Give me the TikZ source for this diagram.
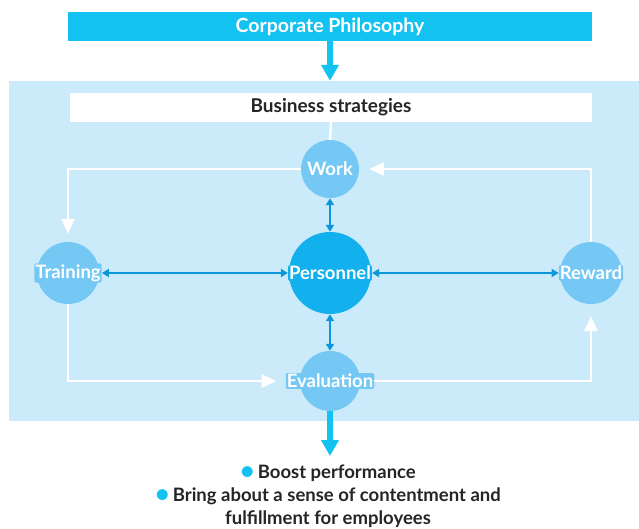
\documentclass[tikz,border=0pt]{standalone}
\usepackage{fontspec}
\setmainfont{Lato}
\usetikzlibrary{arrows.meta}

\definecolor{philo}{HTML}{14C2F2}
\definecolor{panel}{HTML}{CBEBFB}
\definecolor{ring}{HTML}{76C8F4}
\definecolor{core}{HTML}{12B1EE}
\definecolor{link}{HTML}{0C96DB}
\definecolor{ink}{HTML}{262426}

\newcommand{\dotmark}{\textcolor{philo}{\fontsize{25}{22}\selectfont\raisebox{-1.5pt}{\textbullet}}}

\tikzset{
	role/.style={circle, fill=ring, inner sep=0pt},
	rolelabel/.style={fill=ring, text=white, font=\bfseries\fontsize{18.5}{20}\selectfont, inner sep=1pt, rounded corners=2pt},
	twoway/.style={link, line width=2pt, {Triangle[width=8pt,length=7pt]}-{Triangle[width=8pt,length=7pt]}},
	feedback/.style={white, line width=2.5pt, -{Triangle[width=13pt,length=15pt]}},
	flow/.style={philo, line width=6pt, -{Triangle[width=17pt,length=16pt]}}
}

\begin{document}
\begin{tikzpicture}[x=1pt, y=-1pt, line cap=butt, line join=miter]
	
	\useasboundingbox (0,0) rectangle (639,529);
	
	% Vùng nền
	\node[fill=panel, minimum width=630pt, minimum height=340pt, inner sep=0pt] (panel) at (324,251) {};
	
	% Thanh trên và hộp chiến lược
	\node[fill=philo, text=white, minimum width=524pt, minimum height=29pt, inner sep=0pt,
		font=\bfseries\fontsize{19.5}{22}\selectfont] (philosophy) at (330,26.5) {Corporate Philosophy};
	\node[fill=white, text=ink, minimum width=522pt, minimum height=29pt, inner sep=0pt,
		font=\bfseries\fontsize{19}{21}\selectfont] (strategy) at (331,107.5) {Business strategies};
	
	% Các vòng tròn
	\node[role, minimum size=58pt] (work) at (330,169) {};
	\node[role, fill=core, minimum size=82pt] (personnel) at (330,273) {};
	\node[role, minimum size=62pt] (training) at (68,273) {};
	\node[role, minimum size=62pt] (reward) at (591,273) {};
	\node[role, minimum size=60pt] (evaluation) at (330,381) {};
	
	% Nhãn
	\node[rolelabel] (workl) at (work) {Work};
	\node[rolelabel, fill=core] (personnell) at (personnel) {Personnel};
	\node[rolelabel] (trainingl) at (training) {Training};
	\node[rolelabel] (rewardl) at (reward) {Reward};
	\node[rolelabel] (evaluationl) at (evaluation) {Evaluation};
	
	% Mũi tên xanh đậm
	\draw[flow] (philosophy.south) -- (philosophy.south |- panel.north);
	\draw[white, line width=2.5pt] (strategy.south) -- (work.north);
	\coordinate (outcome) at (330,456);
	\draw[flow] (evaluation.south) -- (outcome);
	
	% Mũi tên hai chiều
	\draw[twoway] (trainingl.east) -- (personnell.west);
	\draw[twoway] (personnell.east) -- (rewardl.west);
	\draw[twoway] (work.south) -- (personnel.north);
	\draw[twoway] (personnel.south) -- (evaluation.north);
	
	% Vòng phản hồi trắng
	\draw[feedback, shorten >=8pt] (work.west) -| (training.north);
	\draw[feedback, shorten >=10pt] (reward.north) |- (work.east);
	\draw[feedback, shorten >=9pt] (training.south) |- (evaluationl.west);
	\draw[feedback, shorten >=12pt] (evaluationl.east) -| (reward.south);
	
	% Kết quả
	\node[text=ink, align=center, anchor=north, font=\bfseries\fontsize{18.5}{23}\selectfont] (result) at (328,461)
		{\dotmark\,Boost performance\\
		\dotmark\,Bring about a sense of contentment and\\
		fulfillment for employees};
	
\end{tikzpicture}
\end{document}
